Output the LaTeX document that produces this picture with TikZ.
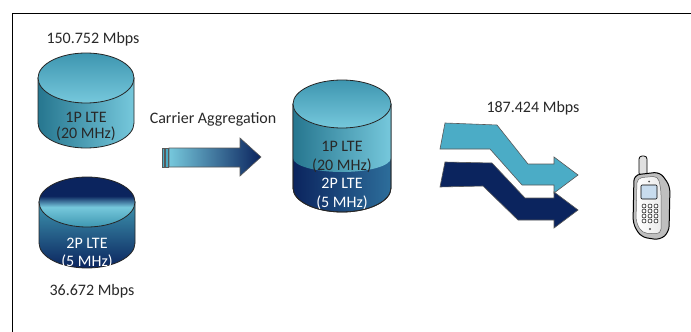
\documentclass[tikz,border=0pt]{standalone}
\usepackage{fontspec}
\setmainfont{Carlito}

\definecolor{ltenavy}{RGB}{11,36,94}
\definecolor{ltecyan}{RGB}{75,172,198}
\definecolor{ltelight}{RGB}{118,200,220}
\definecolor{ltemid}{RGB}{62,150,176}
\definecolor{ltedeep}{RGB}{38,118,143}
\definecolor{ltesteel}{RGB}{45,110,155}
\definecolor{txtgray}{RGB}{40,40,40}

% cap of the dark cylinder: navy on top, a bright band, teal below
\pgfdeclareverticalshading{navycap}{100bp}{color(0bp)=(ltemid); color(25bp)=(ltemid);
	color(45bp)=(ltelight); color(56bp)=(ltenavy); color(100bp)=(ltenavy)}

\begin{document}
\begin{tikzpicture}[
		x=1pt, y=-1pt,
		txt/.style={font=\fontsize{16}{19}\selectfont, text=txtgray, inner sep=0pt, anchor=base},
		whitetxt/.style={txt, text=white},
		rim/.style={draw=black!85, line width=0.8pt},
		edge/.style={draw=black!65, line width=0.6pt}
	]
	\useasboundingbox (0,0) rectangle (691,332);
	\fill[white] (0,0) rectangle (691,332);

	% frame
	\draw[line width=1.4pt] (12.5,332) -- (12.5,13.5) -- (691,13.5);

	% 1P LTE cylinder
	\shadedraw[rim, left color=ltedeep, middle color=ltemid, right color=ltelight]
		(38,78) -- (38,123) arc[start angle=180, end angle=0, x radius=48, y radius=25] -- (134,78) -- cycle;
	\shadedraw[rim, top color=ltemid, bottom color=ltelight] (86,78) ellipse[x radius=48, y radius=25];
	\node[txt] (cylA1) at (86,122) {1P LTE};
	\node[txt] (cylA2) at (86,138) {(20 MHz)};

	% 2P LTE cylinder
	\shadedraw[rim, top color=ltemid, middle color=ltenavy, bottom color=ltenavy]
		(39,202) -- (39,243) arc[start angle=180, end angle=0, x radius=48, y radius=25] -- (135,202) -- cycle;
	\shadedraw[rim, shading=navycap] (87,202) ellipse[x radius=48, y radius=25];
	\node[whitetxt] (cylB1) at (87,248) {2P LTE};
	\node[whitetxt] (cylB2) at (87,266) {(5 MHz)};

	\node[txt] (rateA) at (93,43) {150.752 Mbps};
	\node[txt] (rateB) at (92,295) {36.672 Mbps};

	% aggregation arrow
	\node[txt] (caText) at (213,123) {Carrier Aggregation};
	\filldraw[edge, fill=ltecyan] (162,148) rectangle (164,167);
	\filldraw[edge, fill=ltecyan] (165.5,148) rectangle (168,167);
	\shadedraw[edge, left color=ltelight, middle color=ltenavy, right color=ltenavy]
		(169,148) -- (240,148) -- (240,138) -- (261,157) -- (240,176) -- (240,167) -- (169,167) -- cycle;

	% combined cylinder
	\shadedraw[rim, left color=ltenavy, middle color=ltenavy, right color=ltesteel]
		(293,104) -- (293,188) arc[start angle=180, end angle=0, x radius=49, y radius=24] -- (391,104) -- cycle;
	\shade[left color=ltedeep, middle color=ltemid, right color=ltelight]
		(293,104) -- (293,158) arc[start angle=180, end angle=0, x radius=49, y radius=14] -- (391,104) -- cycle;
	\draw[rim] (293,104) -- (293,188) arc[start angle=180, end angle=0, x radius=49, y radius=24] -- (391,104);
	\shadedraw[rim, top color=ltemid, bottom color=ltelight] (342,104) ellipse[x radius=49, y radius=24];
	\node[txt] (cylC1) at (342,151) {1P LTE};
	\node[txt] (cylC2) at (342,170) {(20 MHz)};
	\node[whitetxt] (cylC3) at (342,188) {2P LTE};
	\node[whitetxt] (cylC4) at (342,207) {(5 MHz)};

	% two carriers to the handset
	\node[txt] (rateSum) at (533,112) {187.424 Mbps};
	\filldraw[edge, fill=ltecyan]
		(445,123) -- (497,125) -- (528,164) -- (554,164) -- (554,157) -- (578,175) -- (554,193)
		-- (554,185) -- (522,185) -- (490,149) -- (440,149) -- cycle;
	\filldraw[edge, fill=ltenavy]
		(445,162) -- (492,163) -- (525,198) -- (554,198) -- (554,192) -- (578,210) -- (554,228)
		-- (554,220) -- (518,220) -- (483,186) -- (440,187) -- cycle;

	% handset
	\filldraw[draw=black, line width=0.8pt, fill=black!12, rounded corners=3pt] (639,156) rectangle (647,176);
	\filldraw[draw=black, line width=1pt, fill=black!25, rounded corners=6pt]
		(634,175) -- (660,172) -- (670,186) -- (669,232) -- (660,240) -- (641,237) -- (633,224) -- cycle;
	\shadedraw[draw=black!60, line width=0.5pt, left color=white, right color=black!8, rounded corners=5pt]
		(637,178) -- (658,176) -- (661,190) -- (661,234) -- (642,233) -- (636,222) -- cycle;
	\filldraw[draw=black, line width=0.6pt, fill={rgb,255:red,200;green,220;blue,238}, rounded corners=1pt]
		(641,185) rectangle (657,199);
	\fill[black!70] (649,181.5) circle[radius=1];
	\foreach \kx in {644,650,656}
		\foreach \ky in {206,211,216,221}
			\filldraw[draw=black, line width=0.5pt, fill=white] (\kx,\ky) circle[radius=2];
	\fill[black!70] (650,229) circle[radius=1.2];
\end{tikzpicture}
\end{document}
